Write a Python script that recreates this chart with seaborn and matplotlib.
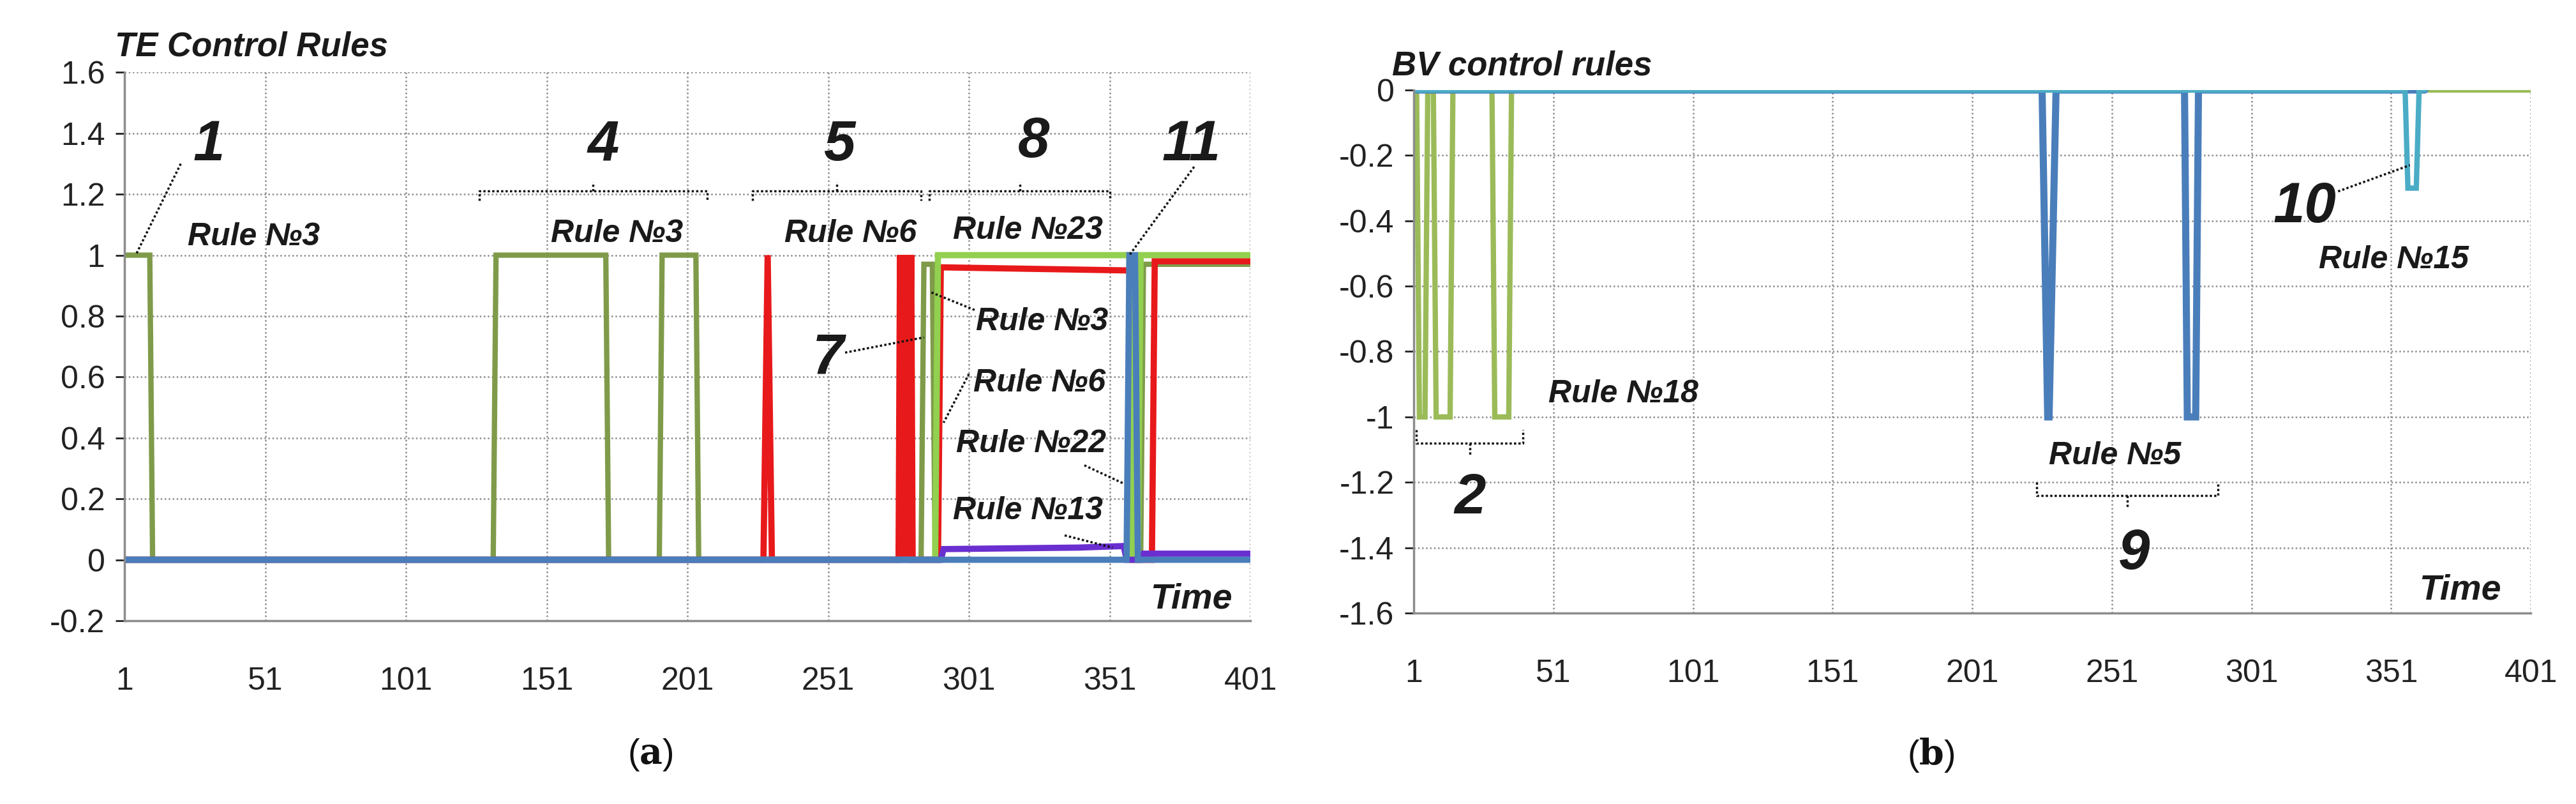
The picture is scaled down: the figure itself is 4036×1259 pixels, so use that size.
import numpy as np
import pandas as pd
import seaborn as sns
import matplotlib
matplotlib.use("Agg")
import matplotlib.pyplot as plt

sns.set_theme(style="white")
plt.rcParams['font.family'] = ['Liberation Sans', 'DejaVu Sans']
plt.rcParams['mathtext.fontset'] = 'dejavuserif'

# ---- data: panel (a) TE control rules ----
te_rule3_t = [1, 10, 11, 132, 133, 172, 173, 191, 192, 204, 205, 284, 285, 288, 289, 362, 363, 401]
te_rule3_y = [1, 1, 0, 0, 1, 1, 0, 0, 1, 1, 0, 0, 0.97, 0.97, 0, 0, 0.97, 0.97]
te_rule6_t = [1, 228, 229.5, 231, 276, 276.5, 277.5, 278.5, 279.5, 280.5, 281, 290, 291, 356, 358, 359, 366, 367, 401]
te_rule6_y = [0, 0, 1, 0, 0, 1, 0, 1, 0, 1, 0, 0, 0.96, 0.95, 0.95, 0, 0, 0.98, 0.98]
te_rule23_t = [1, 289, 290, 358, 359, 361, 362, 401]
te_rule23_y = [0, 0, 1, 1, 0, 0, 1, 1]
te_rule13_t = [1, 291, 292, 340, 356, 357, 362, 363, 401]
te_rule13_y = [0, 0, 0.035, 0.04, 0.045, 0, 0, 0.02, 0.02]
te_rule22_t = [1, 357, 358, 360, 361, 401]
te_rule22_y = [0, 0, 1, 1, 0, 0]

# ---- data: panel (b) BV control rules ----
bv_rule18_t = [1, 2, 3, 5, 6, 8, 9, 14, 15, 29, 30, 35, 36, 401]
bv_rule18_y = [0, 0, -1, -1, 0, 0, -1, -1, 0, 0, -1, -1, 0, 0]
bv_rule5_t = [1, 226, 228, 228.5, 231, 277, 278, 281, 282, 363]
bv_rule5_y = [0, 0, -1, -1, 0, 0, -1, -1, 0, 0]
bv_rule15_t = [1, 356, 357, 360, 361, 363]
bv_rule15_y = [0, 0, -0.3, -0.3, 0, 0]

xticks = [1, 51, 101, 151, 201, 251, 301, 351, 401]
te_yticks = [-0.2, 0, 0.2, 0.4, 0.6, 0.8, 1, 1.2, 1.4, 1.6]
bv_yticks = [-1.6, -1.4, -1.2, -1, -0.8, -0.6, -0.4, -0.2, 0]

fig = plt.figure(figsize=(40.37, 12.59), dpi=100)
fig.patch.set_facecolor('white')
ax1 = fig.add_axes([0.0483, 0.228, 0.437, 0.682])
ax2 = fig.add_axes([0.5487, 0.2375, 0.4335, 0.6505])

def line(ax, t, y, color, lw=6):
    df = pd.DataFrame({'t': t, 'y': y})
    sns.lineplot(data=df, x='t', y='y', ax=ax, color=color, lw=lw, sort=False,
                 estimator=None, solid_joinstyle='miter')

line(ax1, te_rule3_t, te_rule3_y, '#7f9b4a')
line(ax1, te_rule6_t, te_rule6_y, '#e8191a', 7)
line(ax1, te_rule23_t, te_rule23_y, '#92d050', 7)
line(ax1, te_rule13_t, te_rule13_y, '#6a2fd0', 7)
line(ax1, te_rule22_t, te_rule22_y, '#4a7ebb', 7)

line(ax2, bv_rule18_t, bv_rule18_y, '#9bbb59', 6)
line(ax2, bv_rule5_t, bv_rule5_y, '#4a7ebb', 8)
line(ax2, bv_rule15_t, bv_rule15_y, '#4bacc6', 6)

for ax, yt in ((ax1, te_yticks), (ax2, bv_yticks)):
    ax.set_xlim(1, 401)
    ax.set_ylim(min(yt), max(yt))
    ax.set_xticks(xticks)
    ax.set_xticklabels([str(v) for v in xticks])
    ax.set_yticks(yt)
    ax.set_yticklabels([('%g' % v) for v in yt])
    ax.grid(True, ls=(0, (1, 1.5)), color='#8c8c8c', lw=1.8)
    ax.set_axisbelow(True)
    for s in ('top', 'right'):
        ax.spines[s].set_visible(False)
    for s in ('left', 'bottom'):
        ax.spines[s].set_color('#8c8c8c')
        ax.spines[s].set_linewidth(2.5)
    ax.tick_params(axis='x', labelsize=36, pad=52, length=0, colors='#222222')
    ax.tick_params(axis='y', labelsize=36, pad=12, length=10, width=2, colors='#222222', left=True)
    ax.set_xlabel('')
    ax.set_ylabel('')

bi = dict(fontstyle='italic', fontweight='bold', color='#1a1a1a')
dot = dict(color='#111111', lw=2.5, ls=(0, (1, 1)))

# panel titles
fig.text(0.0446, 0.942, 'TE Control Rules', fontsize=38, ha='left', va='center', **bi)
fig.text(0.5402, 0.918, 'BV control rules', fontsize=38, ha='left', va='center', **bi)

# panel (a) labels
ax1.text(380, -0.13, 'Time', fontsize=40, ha='center', va='center', **bi)
for (x, y, s) in [(31, 1.36, '1'), (171, 1.36, '4'), (255, 1.36, '5'), (324, 1.37, '8'), (380, 1.36, '11'), (251, 0.66, '7')]:
    ax1.text(x, y, s, fontsize=64, ha='center', va='center', **bi)
for (x, y, s) in [(47, 1.06, 'Rule №3'), (176, 1.07, 'Rule №3'), (259, 1.07, 'Rule №6'), (322, 1.08, 'Rule №23'),
                  (327, 0.78, 'Rule №3'), (326, 0.58, 'Rule №6'), (323, 0.38, 'Rule №22'), (322, 0.16, 'Rule №13')]:
    ax1.text(x, y, s, fontsize=36, ha='center', va='center', **bi)
for (x0, y0, x1, y1) in [(21, 1.3, 5, 1.0), (381, 1.29, 358, 1.0), (303, 0.82, 287, 0.88),
                          (257, 0.68, 285, 0.73), (301, 0.61, 292, 0.45), (342, 0.31, 356, 0.25),
                          (335, 0.08, 352, 0.04)]:
    ax1.plot([x0, x1], [y0, y1], **dot)
for (a, b) in [(127, 208), (224, 284), (287, 351)]:
    ax1.plot([a, a, b, b], [1.18, 1.21, 1.21, 1.18], **dot)
    m = (a + b) / 2
    ax1.plot([m, m], [1.21, 1.24], **dot)

# panel (b) labels
ax2.text(375.6, -1.53, 'Time', fontsize=40, ha='center', va='center', **bi)
for (x, y, s) in [(21, -1.25, '2'), (259, -1.42, '9'), (320, -0.36, '10')]:
    ax2.text(x, y, s, fontsize=64, ha='center', va='center', **bi)
for (x, y, s) in [(76, -0.93, 'Rule №18'), (252, -1.12, 'Rule №5'), (352, -0.52, 'Rule №15')]:
    ax2.text(x, y, s, fontsize=36, ha='center', va='center', **bi)
ax2.plot([332, 357.7], [-0.31, -0.23], **dot)
for (a, b, y) in [(2, 40, -1.08), (224, 289, -1.24)]:
    ax2.plot([a, a, b, b], [y + 0.04, y, y, y + 0.04], **dot)
    m = (a + b) / 2
    ax2.plot([m, m], [y, y - 0.04], **dot)

fig.text(1019 / 4037, 1 - 1182 / 1259, r'($\mathbf{a}$)', fontsize=40, ha='center', va='center', color='#111111')
fig.text(3025 / 4037, 1 - 1182 / 1259, r'($\mathbf{b}$)', fontsize=40, ha='center', va='center', color='#111111')

fig.savefig('out.png', dpi=100, facecolor='white')
